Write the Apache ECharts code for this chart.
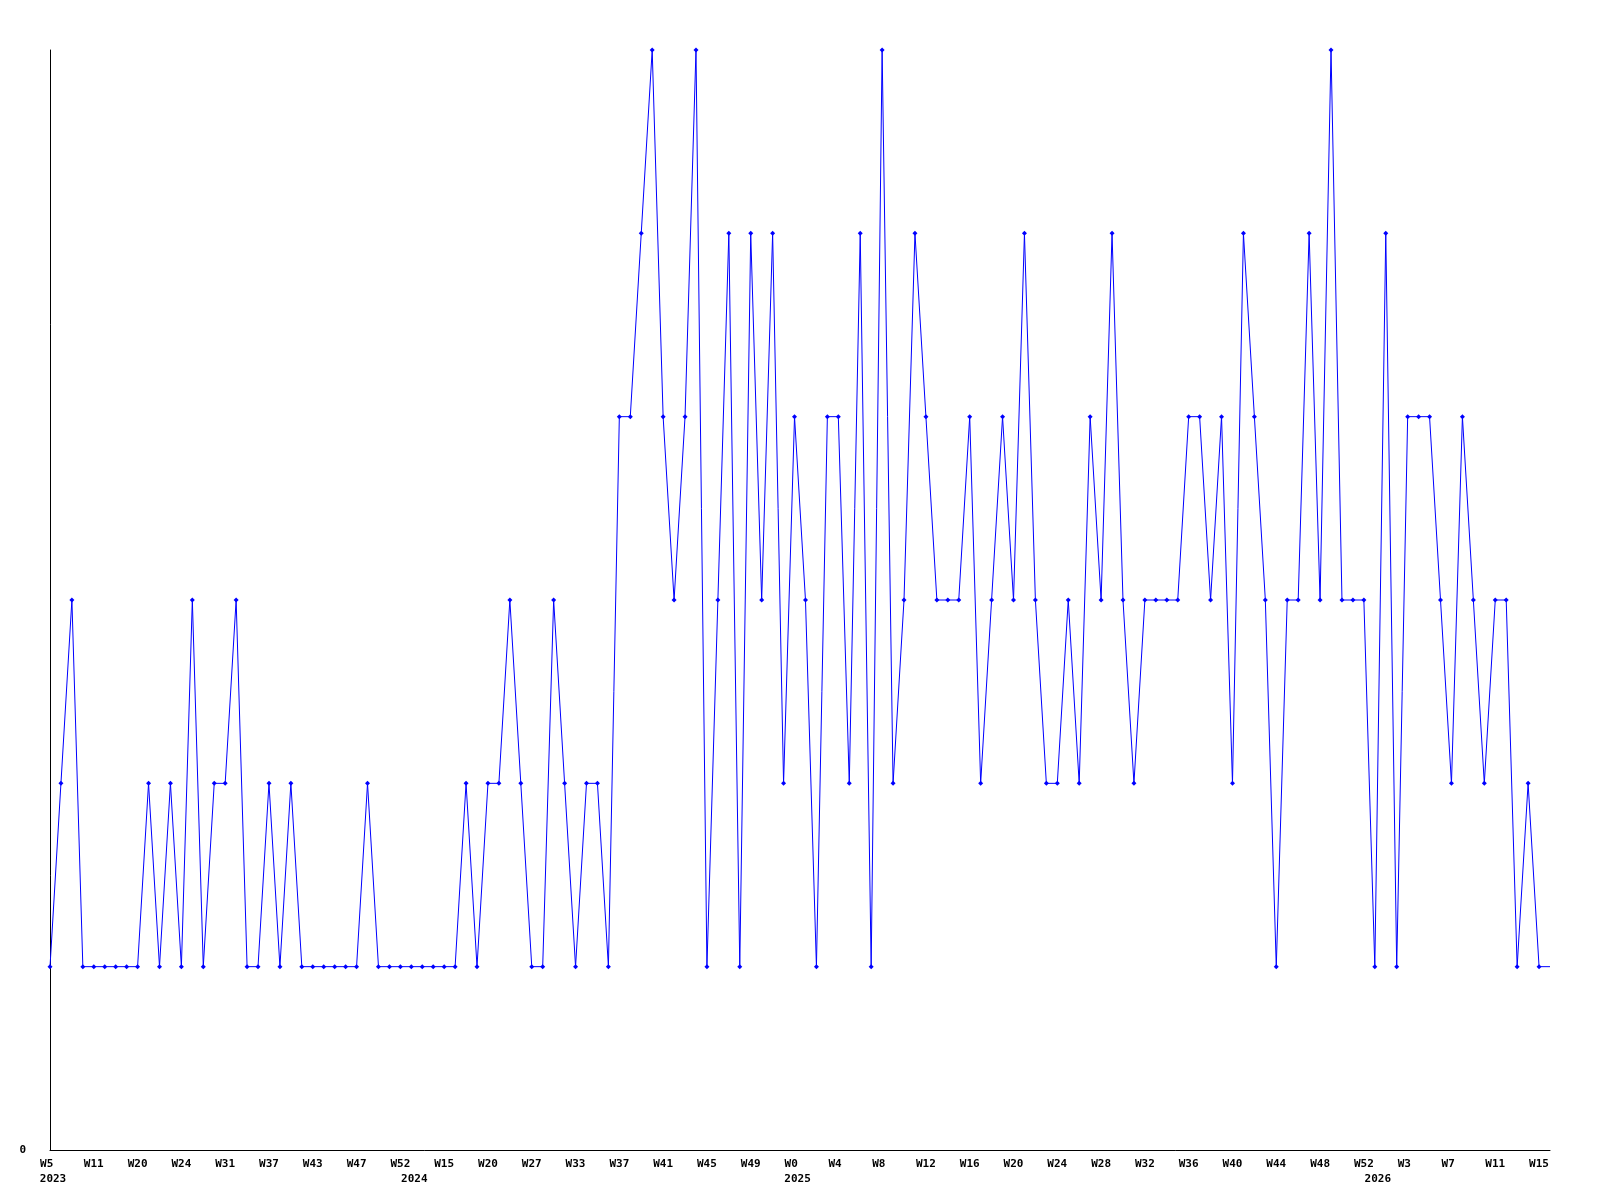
<!DOCTYPE html>
<html>
<head>
<meta charset="utf-8">
<style>
  html, body { margin: 0; padding: 0; background: #ffffff; }
  #chart { width: 1600px; height: 1200px; }
</style>
<script src="https://cdn.jsdelivr.net/npm/echarts@6/dist/echarts.min.js"></script>
</head>
<body>
<div id="chart"></div>
<script>
// Week labels of each data point (year given in parallel array)
const weeks = [
  // 2023
  'W5','W6','W8','W10','W11','W13','W15','W18','W20','W21','W22','W23','W24','W26','W28','W30',
  'W31','W33','W34','W36','W37','W38','W40','W42','W43','W44','W45','W46','W47','W48','W50','W51','W52',
  // 2024
  'W1','W5','W10','W15','W16','W17','W19','W20','W22','W24','W25','W27','W28','W30','W31','W33',
  'W34','W35','W36','W37','W38','W39','W40','W41','W42','W43','W44','W45','W46','W47','W48','W49',
  'W50','W51','W52',
  // 2025
  'W0','W1','W2','W3','W4','W5','W6','W7','W8','W9','W10','W11','W12','W13','W14','W15','W16','W17',
  'W18','W19','W20','W21','W22','W23','W24','W25','W26','W27','W28','W29','W30','W31','W32','W33',
  'W34','W35','W36','W37','W38','W39','W40','W41','W42','W43','W44','W45','W46','W47','W48','W49',
  'W50','W51','W52',
  // 2026
  'W0','W1','W2','W3','W4','W5','W6','W7','W8','W9','W10','W11','W12','W13','W14','W15','W16'
];
const years = [
  ...Array(33).fill(2023),
  ...Array(35).fill(2024),
  ...Array(53).fill(2025),
  ...Array(17).fill(2026)
];
const values = [
  1,2,3,1,1,1,1,1,1,2,
  1,2,1,3,1,2,2,3,1,1,
  2,1,2,1,1,1,1,1,1,2,
  1,1,1,1,1,1,1,1,2,1,
  2,2,3,2,1,1,3,2,1,2,
  2,1,4,4,5,6,4,3,4,6,
  1,3,5,1,5,3,5,2,4,3,
  1,4,4,2,5,1,6,2,3,5,
  4,3,3,3,4,2,3,4,3,5,
  3,2,2,3,2,4,3,5,3,2,
  3,3,3,3,4,4,3,4,2,5,
  4,3,1,3,3,5,3,6,3,3,
  3,1,5,1,4,4,4,3,2,4,
  3,2,3,3,1,2,1,1
];
const yTickLabels = ['0'];

const categories = weeks.map((w, i) => years[i] + ' ' + w);
const seriesData = values.map((v, i) =>
  i === values.length - 1 ? { value: v, symbol: 'none' } : v);

const labelFont = {
  fontFamily: 'DejaVu Sans Mono',
  fontWeight: 'bold',
  fontSize: 11,
  lineHeight: 15,
  color: '#000000'
};

const chart = echarts.init(document.getElementById('chart'), null, { renderer: 'canvas' });
chart.setOption({
  animation: false,
  backgroundColor: '#ffffff',
  grid: { left: 50, right: 50, top: 50, bottom: 50, containLabel: false },
  xAxis: {
    type: 'category',
    data: categories,
    boundaryGap: false,
    axisLine: { show: true, lineStyle: { color: '#000000', width: 1 } },
    axisTick: { show: false },
    splitLine: { show: false },
    axisLabel: Object.assign({
      interval: 0,
      margin: 7,
      verticalAlign: 'top',
      rich: {
        w: Object.assign({}, labelFont),
        y: Object.assign({ padding: [0, 0, 0, 6] }, labelFont)
      },
      formatter: function (val, idx) {
        const showWeek = idx % 4 === 0;
        const yearStart = idx === 0 || years[idx] !== years[idx - 1];
        if (!showWeek && !yearStart) return '';
        let wk = showWeek ? weeks[idx] : '';
        if (showWeek && wk.length < 3) wk = wk + ' ';
        return '{w|' + wk + '}' + (yearStart ? '\n{y|' + years[idx] + '}' : '');
      }
    }, labelFont)
  },
  yAxis: {
    type: 'value',
    min: 0,
    max: 6,
    interval: 1,
    axisLine: { show: true, lineStyle: { color: '#000000', width: 1 } },
    axisTick: { show: false },
    splitLine: { show: false },
    axisLabel: Object.assign({
      margin: 24,
      formatter: function (v) { return yTickLabels.includes(String(v)) ? String(v) : ''; }
    }, labelFont)
  },
  series: [{
    type: 'line',
    data: seriesData,
    lineStyle: { color: '#0000ff', width: 1 },
    itemStyle: { color: '#0000ff' },
    symbol: 'diamond',
    symbolSize: 5,
    showAllSymbol: true,
    clip: false
  }]
});
</script>
</body>
</html>
